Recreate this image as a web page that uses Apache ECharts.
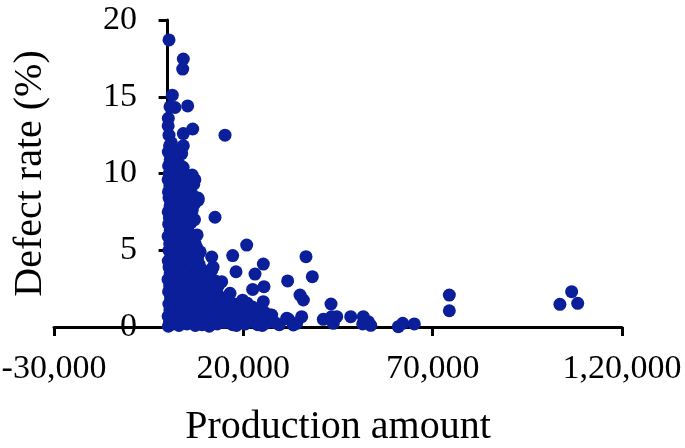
<!DOCTYPE html>
<html>
<head>
<meta charset="utf-8">
<script src="https://cdn.jsdelivr.net/npm/echarts@6/dist/echarts.min.js"></script>
<style>html,body{margin:0;padding:0;background:#fff;}#chart{width:685px;height:448px;}</style>
</head>
<body>
<div id="chart"></div>
<script>
// Axis ticks and labels
const xTickValues = [-30000, 20000, 70000, 120000];
const xTickLabels = ['-30,000', '20,000', '70,000', '1,20,000'];
const yTickValues = [0, 5, 10, 15, 20];
const xTitle = 'Production amount';
const yTitle = 'Defect rate (%)';

// Data points [production amount, defect rate %]
const axisColumn = [
  [210,0.05],[480,0.35],[150,0.7],[620,1.1],[330,1.5],[780,1.9],[260,2.3],[540,2.7],[120,3.1],[690,3.5],
  [400,3.9],[180,4.3],[820,4.6],[350,5.0],[560,5.4],[140,5.9],[710,6.3],[300,6.7],[480,7.1],[160,7.5],
  [650,7.9],[380,8.4],[220,8.8],[590,9.2],[140,9.6],[430,10.0],[260,10.5],[700,10.9],[180,11.4],[520,11.8],
  [370,12.5],[150,13.1],[190,13.6],[630,14.35],[1240,15.1],[370,18.7]
];
const column2 = [
  [1400,0.2],[2100,0.5],[1700,0.9],[2400,1.3],[1300,1.7],[1900,2.1],[2500,2.6],[1500,3.0],[2200,3.4],[1350,3.9],
  [1800,4.4],[2450,4.8],[1600,5.2],[2100,5.7],[1250,6.1],[1950,6.6],[2350,7.0],[1450,7.4],[2050,7.8],[1700,8.3],
  [2500,8.7],[1350,9.1],[1900,9.5],[2300,9.9],[1550,10.3],[1200,10.8],[1950,14.3]
];
const column3 = [
  [3000,0.1],[3700,0.45],[4300,0.8],[3200,1.2],[4000,1.55],[2900,1.95],[3600,2.35],[4400,2.75],[3100,3.2],[3900,3.6],
  [4500,4.0],[3300,4.45],[3800,4.9],[2900,5.3],[4200,5.75],[3400,6.2],[4000,6.6],[3100,7.05],[3700,7.5],[4400,7.9],
  [3200,8.35],[3900,8.8],[4500,9.25],[3000,9.7],[3600,10.1],[4150,11.8],[3720,11.3],[4150,12.6],[3990,16.8],[4150,17.46]
];
const column4 = [
  [5100,0.2],[5900,0.55],[6700,0.3],[5400,0.95],[6300,1.3],[5000,1.7],[6800,2.0],[5700,2.4],[6400,2.85],[5200,3.3],
  [6100,3.7],[6900,4.15],[5500,4.6],[6300,5.0],[5000,5.45],[5800,5.9],[5300,6.4],[4900,6.9],[5600,7.3],[5100,7.8],
  [6000,8.2],[6600,8.6],[5400,9.0],[6360,9.25],[5900,9.8],[5300,14.4],[6630,12.9],[7240,5.45]
];
const column5 = [
  [7300,0.1],[8200,0.4],[9100,0.15],[7800,0.8],[8800,1.1],[9800,0.6],[7500,1.45],[8500,1.8],[9600,1.5],[7200,2.2],
  [8100,2.55],[9300,2.3],[7700,2.95],[8700,3.3],[10100,2.9],[7400,3.7],[8300,4.1],[9000,3.75],[7900,4.5],[8600,4.9],
  [7600,5.2],[8030,8.4],[8100,8.27],[7200,9.6],[10300,0.9],[10500,2.0]
];
const fillPoints = [
  [900,0.6],[2700,0.3],[4700,0.5],[6000,0.9],[1000,2.5],[2800,2.9],[4800,2.2],[6600,1.6],[1100,4.0],[2700,4.1],
  [4700,3.4],[6700,3.3],[1000,5.8],[2600,6.0],[4600,6.3],[6200,6.8],[1050,8.0],[2800,8.0],[4700,8.5],[6500,7.6],
  [950,9.9],[2700,9.4],[4800,9.7],[6900,9.3],[800,11.2],[1600,11.6],[6000,4.3],[7000,2.6],[7800,6.0],[8400,3.0],
  [9400,1.0],[10800,1.7],[12200,2.4],[13000,0.6],[14800,0.9],[16500,1.3],[18800,0.6],[21000,0.9],[23500,0.6],[25000,0.1]
];
const fillPoints2 = [
  [1800,1.2],[3400,0.8],[5600,1.3],[1200,3.4],[3500,2.7],[5600,3.0],[2000,4.7],[4100,4.6],[5900,5.3],[1400,6.8],
  [3200,5.8],[5400,6.0],[2300,7.5],[4200,7.3],[6000,7.2],[1300,8.7],[3500,9.0],[5500,8.6],[1800,10.1],[4100,10.4],
  [6500,9.9],[1000,12.0],[2300,11.2],[7100,7.0],[7000,8.0],[3100,10.6],[8800,2.6],[10000,1.2],[11800,1.0],[9600,3.4]
];
const midRange = [
  [11000,0.05],[12000,0.35],[13100,0.2],[14200,0.5],[11500,0.75],[12700,1.0],[13800,0.85],[15000,0.3],[16100,0.6],[17200,0.15],
  [11200,1.35],[12400,1.6],[13500,1.4],[14700,1.2],[15900,1.05],[17000,0.9],[11800,2.0],[13000,2.25],[14300,1.9],[15500,1.65],
  [16480,2.2],[11400,2.6],[12600,3.0],[14280,2.95],[11650,3.7],[12000,3.9],[11650,4.56],[12520,7.15],[15160,12.5],[13400,2.7],
  [10900,3.3],[17600,1.5]
];
const outerRange = [
  [18200,0.1],[19300,0.45],[20500,0.2],[21600,0.7],[22700,0.35],[23800,0.15],[24900,0.5],[26000,0.25],[27040,0.78],[27490,0.78],
  [28300,0.3],[19000,0.95],[20300,1.25],[21700,1.05],[23000,0.9],[24300,1.15],[25600,0.95],[18700,1.4],[19800,1.75],[21000,1.55],
  [22400,1.3],[25280,1.65],[22470,2.45],[25460,2.63],[20890,5.34],[17190,4.65],[18070,3.6],[23080,3.45],[25280,4.1],[31450,0.57],
  [29500,0.15]
];
const farPoints = [
  [31700,3.0],[36550,4.58],[38220,3.28],[34970,2.08],[35850,1.76],[43150,1.5],[31880,0.52],[33200,0.13],[35410,0.67],[34090,0.24],
  [41120,0.5],[43330,0.67],[44660,0.67],[43760,0.24],[48360,0.67],[51680,0.67],[53000,0.35],[51530,0.2],[53640,0.11],[60930,0.02],
  [62090,0.24],[65150,0.2],[74400,2.08],[74400,1.06],[106700,2.3],[103600,1.48],[108300,1.54]
];

const allPoints = [].concat(axisColumn, column2, column3, column4, column5, fillPoints, fillPoints2, midRange, outerRange, farPoints);

const FONT = 'Liberation Serif';
const chart = echarts.init(document.getElementById('chart'), null, {renderer: 'canvas'});
chart.setOption({
  animation: false,
  backgroundColor: '#ffffff',
  grid: {left: 54, right: 63, top: 20, bottom: 121, containLabel: false, outerBoundsMode: 'none'},
  xAxis: {
    type: 'value',
    min: xTickValues[0],
    max: xTickValues[xTickValues.length - 1],
    interval: xTickValues[1] - xTickValues[0],
    name: xTitle,
    nameLocation: 'middle',
    nameGap: 80,
    nameTextStyle: {fontFamily: FONT, fontSize: 40, color: '#000'},
    axisLine: {onZero: false, lineStyle: {color: '#000', width: 3}},
    axisTick: {show: true, length: 9, lineStyle: {color: '#000', width: 3}},
    splitLine: {show: false},
    axisLabel: {
      fontFamily: FONT, fontSize: 34, color: '#000', margin: 25,
      showMinLabel: true, showMaxLabel: true,
      formatter: function (v) {
        const i = xTickValues.indexOf(v);
        return i >= 0 ? xTickLabels[i] : '';
      }
    }
  },
  yAxis: {
    type: 'value',
    min: yTickValues[0],
    max: yTickValues[yTickValues.length - 1],
    interval: yTickValues[1] - yTickValues[0],
    name: yTitle,
    nameLocation: 'middle',
    nameRotate: 90,
    nameGap: 4,
    nameTextStyle: {fontFamily: FONT, fontSize: 40, color: '#000'},
    axisLine: {show: true, onZero: true, lineStyle: {color: '#000', width: 3}},
    axisTick: {show: true, length: 9, lineStyle: {color: '#000', width: 3}},
    splitLine: {show: false},
    axisLabel: {fontFamily: FONT, fontSize: 34, color: '#000', margin: -83}
  },
  series: [{
    type: 'scatter',
    data: allPoints,
    symbol: 'circle',
    symbolSize: 13,
    itemStyle: {color: '#0a1f99', opacity: 1},
    clip: false
  }]
});
</script>
</body>
</html>
